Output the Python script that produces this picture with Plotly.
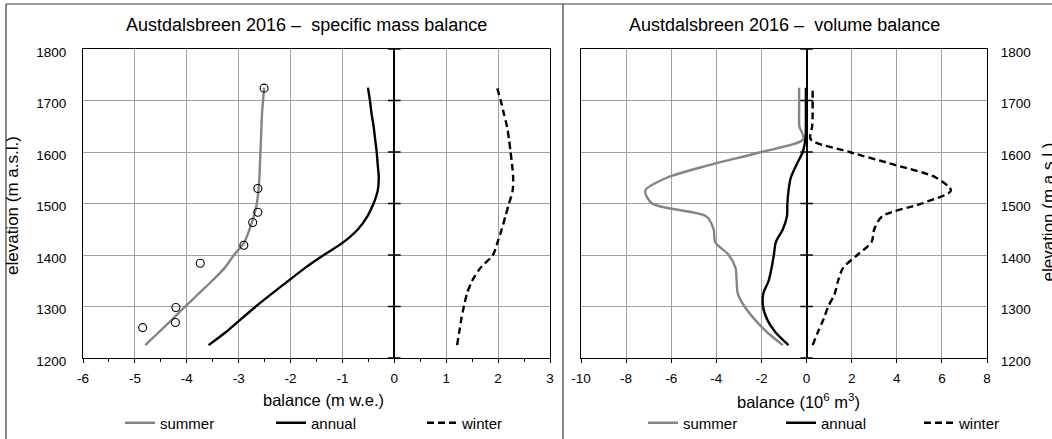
import plotly.graph_objects as go

W, H = 1052, 439

# elevation bands (m a.s.l.)
elev = [1225, 1250, 1275, 1300, 1325, 1350, 1375, 1400, 1425, 1450, 1475,
        1500, 1525, 1550, 1575, 1600, 1625, 1650, 1675, 1700, 1725]

# specific mass balance (m w.e.)
spec_summer = [-4.80, -4.54, -4.28, -4.03, -3.77, -3.51, -3.27, -3.09, -2.89, -2.79, -2.71,
               -2.65, -2.62, -2.60, -2.59, -2.58, -2.57, -2.56, -2.55, -2.53, -2.51]
spec_annual = [-3.58, -3.25, -2.96, -2.67, -2.36, -2.04, -1.72, -1.36, -0.98, -0.70, -0.52,
               -0.40, -0.32, -0.30, -0.32, -0.34, -0.37, -0.40, -0.44, -0.47, -0.51]
spec_winter = [1.21, 1.25, 1.29, 1.34, 1.40, 1.50, 1.66, 1.90, 1.99, 2.07, 2.14,
               2.21, 2.28, 2.29, 2.27, 2.24, 2.21, 2.17, 2.11, 2.05, 1.98]

# summer balance measured at stakes
stake_elev = [1724, 1529, 1483, 1463, 1419, 1384, 1298, 1269, 1259]
stake_summer = [-2.51, -2.63, -2.63, -2.73, -2.90, -3.74, -4.21, -4.22, -4.85]

# volume balance (10^6 m^3)
vol_summer = [-1.05, -1.75, -2.30, -2.75, -3.05, -3.10, -3.15, -3.45, -4.05, -4.12, -4.45,
              -6.85, -7.15, -6.20, -4.28, -2.00, -0.14, -0.32, -0.33, -0.33, -0.33]
vol_annual = [-0.80, -1.38, -1.75, -1.93, -1.92, -1.68, -1.55, -1.45, -1.36, -1.05, -0.87,
              -0.85, -0.80, -0.70, -0.45, -0.17, -0.05, -0.03, -0.03, -0.03, -0.03]
vol_winter = [0.27, 0.50, 0.75, 0.96, 1.25, 1.40, 1.62, 2.25, 2.88, 3.00, 3.35,
              5.10, 6.40, 5.75, 3.92, 1.90, 0.18, 0.25, 0.27, 0.27, 0.27]

elev_ticks = [1200, 1300, 1400, 1500, 1600, 1700, 1800]
spec_ticks = [-6, -5, -4, -3, -2, -1, 0, 1, 2, 3]
vol_ticks = [-10, -8, -6, -4, -2, 0, 2, 4, 6, 8]

FONT = "Liberation Sans, Arial, sans-serif"
SUMMER_C = "#858585"
GRID_C = "#a0a0a0"
LW = 2.4

# plot areas in pixels
L_X0, L_X1 = 83, 550
R_X0, R_X1 = 581, 987
P_Y0, P_Y1 = 49, 358


def fx(p):
    return p / W


def fy(p):
    return 1 - p / H


fig = go.Figure()

series = [
    ("summer", dict(color=SUMMER_C, width=LW)),
    ("annual", dict(color="black", width=LW)),
    ("winter", dict(color="black", width=LW, dash="7px,4px")),
]

for (name, line), xs in zip(series, [spec_summer, spec_annual, spec_winter]):
    fig.add_trace(go.Scatter(x=xs, y=elev, mode="lines", name=name, line=line,
                             line_shape="spline", line_smoothing=0.8,
                             xaxis="x", yaxis="y", legend="legend"))

fig.add_trace(go.Scatter(x=stake_summer, y=stake_elev, mode="markers", showlegend=False,
                         marker=dict(symbol="circle-open", size=8, color="black",
                                     line=dict(width=1.1)),
                         xaxis="x", yaxis="y"))

for (name, line), xs in zip(series, [vol_summer, vol_annual, vol_winter]):
    fig.add_trace(go.Scatter(x=xs, y=elev, mode="lines", name=name, line=line,
                             line_shape="spline", line_smoothing=0.8,
                             xaxis="x2", yaxis="y2", legend="legend2"))

# cross ticks on the vertical axis at zero balance
for xa, ya in (("x", "y"), ("x2", "y2")):
    fig.add_trace(go.Scatter(x=[0] * len(elev_ticks), y=elev_ticks, mode="markers",
                             showlegend=False, hoverinfo="skip",
                             marker=dict(symbol="line-ew", size=9,
                                         line=dict(width=1.5, color="black")),
                             xaxis=xa, yaxis=ya))

tickfont = dict(family=FONT, size=13.5, color="black")

common_x = dict(showline=True, linecolor="black", linewidth=1, mirror=True,
                showgrid=True, gridcolor=GRID_C, gridwidth=1,
                zeroline=True, zerolinecolor="black", zerolinewidth=1.6,
                ticks="outside", ticklen=4, tickcolor="black", tickfont=tickfont,
                ticklabelstandoff=4, automargin=False, fixedrange=True)
common_y = dict(range=[1200, 1800], tickvals=elev_ticks,
                ticktext=[str(v) for v in elev_ticks], showline=True, linecolor="black",
                linewidth=1, mirror=True, showgrid=True, gridcolor=GRID_C, gridwidth=1,
                zeroline=False, ticks="", tickfont=tickfont, ticklabelshift=3,
                automargin=False, domain=[fy(P_Y1), fy(P_Y0)])

fig.update_layout(
    width=W, height=H, autosize=False,
    margin=dict(l=0, r=0, t=0, b=0, autoexpand=False),
    paper_bgcolor="white", plot_bgcolor="white",
    font=dict(family=FONT, color="black"),
    xaxis=dict(domain=[fx(L_X0), fx(L_X1)], range=[-6, 3], tickvals=spec_ticks,
               ticktext=[str(v) for v in spec_ticks], anchor="y",
               minor=dict(dtick=0.5, ticks="outside", ticklen=3, tickcolor="black",
                          showgrid=False),
               **common_x),
    yaxis=dict(anchor="x", side="left", ticklabelstandoff=13, **common_y),
    xaxis2=dict(domain=[fx(R_X0), fx(R_X1)], range=[-10, 8], tickvals=vol_ticks,
                ticktext=[str(v) for v in vol_ticks], anchor="y2", **common_x),
    yaxis2=dict(anchor="x2", side="right", ticklabelstandoff=10, **common_y),
    legend=dict(orientation="h", x=fx(120), y=fy(423), xanchor="left", yanchor="middle",
                entrywidth=106, entrywidthmode="pixels", bgcolor="rgba(0,0,0,0)",
                font=dict(family=FONT, size=15), itemclick=False),
    legend2=dict(orientation="h", x=fx(643), y=fy(423), xanchor="left", yanchor="middle",
                 entrywidth=93, entrywidthmode="pixels", bgcolor="rgba(0,0,0,0)",
                 font=dict(family=FONT, size=15), itemclick=False),
    showlegend=True,
)

annotations = [
    dict(text="Austdalsbreen 2016 –  specific mass balance", x=fx(306), y=fy(25),
         font=dict(size=18)),
    dict(text="Austdalsbreen 2016 –  volume balance", x=fx(784), y=fy(25),
         font=dict(size=18)),
    dict(text="balance (m w.e.)", x=fx(323), y=fy(400), font=dict(size=16.5)),
    dict(text="balance (10<sup>6</sup> m<sup>3</sup>)", x=fx(798), y=fy(401),
         font=dict(size=16.5)),
    dict(text="elevation (m a.s.l.)", x=fx(12), y=fy(206), textangle=-90,
         font=dict(size=17)),
    dict(text="elevation (m a.s.l.)", x=fx(1037), y=fy(212), textangle=-90,
         xanchor="left", font=dict(size=17)),
]
for a in annotations:
    a.setdefault("xanchor", "center")
    a.update(xref="paper", yref="paper", yanchor="middle", showarrow=False)
    a["font"].update(family=FONT, color="black")
fig.update_layout(annotations=annotations)

border = dict(color="#3a3a3a", width=1.2)
fig.update_layout(shapes=[
    dict(type="line", xref="paper", yref="paper", x0=fx(6), x1=1, y0=fy(4), y1=fy(4), line=border),
    dict(type="line", xref="paper", yref="paper", x0=fx(6), x1=fx(6), y0=0, y1=fy(4), line=border),
    dict(type="line", xref="paper", yref="paper", x0=fx(563), x1=fx(563), y0=0, y1=fy(4), line=border),
])

fig.write_html("out.html")
